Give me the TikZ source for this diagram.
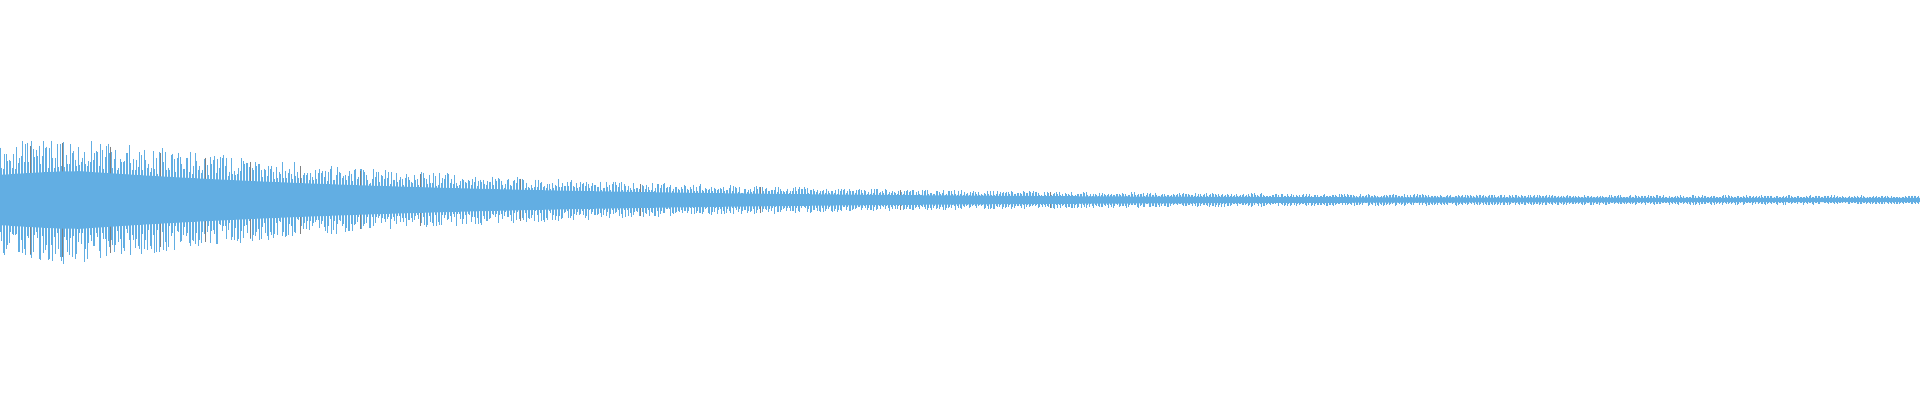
\documentclass[tikz,border=0pt]{standalone}
\definecolor{wave}{RGB}{98,174,227}
\begin{document}
\begin{tikzpicture}[x=1pt,y=1pt]
	\tikzset{sample/.style={wave,line width=0.6pt}}
	\useasboundingbox (0,0) rectangle (1920,400);
	\coordinate (mid) at (0,200);
	\pgfmathsetseed{7};
	% waveform, one stroke per sample
    \foreach \x in {0,1.5,...,1920} {
		\pgfmathsetmacro{\A}{4+74*exp(-\x/380)*min(1,0.7+0.3*\x/75)};
		\pgfmathsetmacro{\u}{\A*(0.5+0.5*rnd)};
		\pgfmathsetmacro{\l}{\A*(0.5+0.5*rnd)};
		\draw[sample] ([shift={(\x,\u)}]mid) -- ([shift={(\x,-\l)}]mid);
	}
	% a few darker strokes
    \foreach \x in {30,62,110,160,205,250,300,360,420,520,640,760,900,1050} {
		\pgfmathsetmacro{\A}{4+74*exp(-\x/380)*min(1,0.7+0.3*\x/75)};
		\draw[gray,line width=0.4pt] ([shift={(\x,0.9*\A)}]mid) -- ([shift={(\x,-0.9*\A)}]mid);
	}
	% dense core
    \fill[wave] (0,200) \foreach \x in {0,20,...,1920} {
		-- (\x,{200+0.45*(4+74*exp(-\x/380)*min(1,0.7+0.3*\x/75))})
	} -- (1920,200) -- cycle;
    \fill[wave] (0,200) \foreach \x in {0,20,...,1920} {
		-- (\x,{200-0.45*(4+74*exp(-\x/380)*min(1,0.7+0.3*\x/75))})
	} -- (1920,200) -- cycle;
\end{tikzpicture}
\end{document}
